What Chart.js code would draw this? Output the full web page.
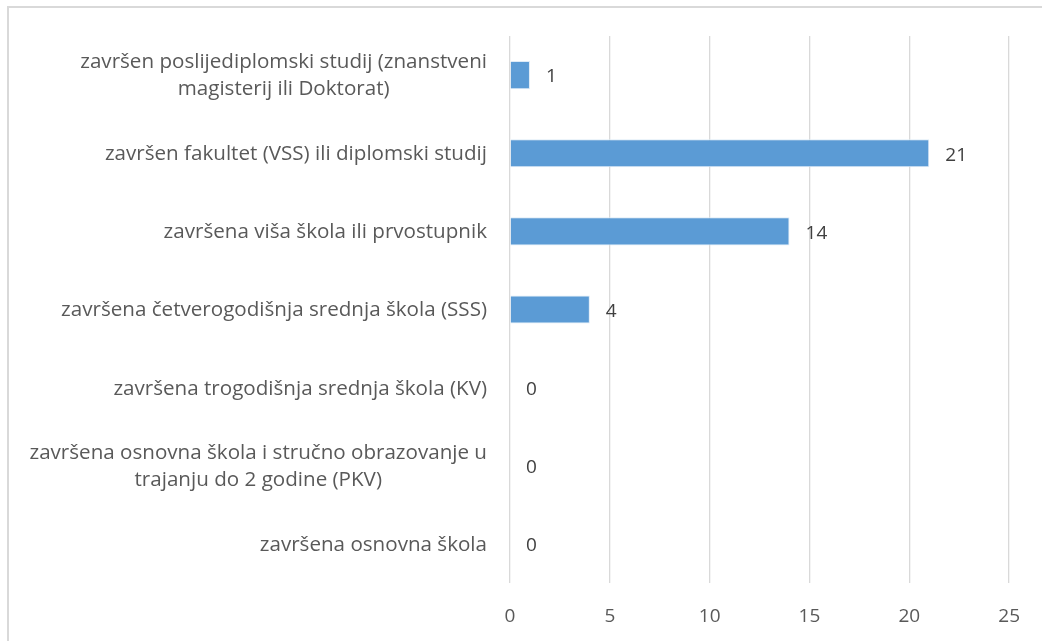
<!DOCTYPE html>
<html>
<head>
<meta charset="utf-8">
<script src="https://cdn.jsdelivr.net/npm/chart.js@4.4.1/dist/chart.umd.min.js"></script>
<style>
    html, body { margin: 0; padding: 0; background: #fff; }
    .frame {
        position: absolute; left: 7px; top: 6px; width: 1100px; height: 700px;
        border-left: 2px solid #d9d9d9; border-top: 2px solid #d9d9d9;
    }
    #chart { position: absolute; left: 0; top: 0; }
</style>
</head>
<body>
<div class="frame"></div>
<canvas id="chart" width="1042" height="641"></canvas>
<script>
const categories = [
    ['završen poslijediplomski studij (znanstveni', 'magisterij ili Doktorat)'],
    ['završen fakultet (VSS) ili diplomski studij'],
    ['završena viša škola ili prvostupnik'],
    ['završena četverogodišnja srednja škola (SSS)'],
    ['završena trogodišnja srednja škola (KV)'],
    ['završena osnovna škola i stručno obrazovanje u', 'trajanju do 2 godine (PKV)'],
    ['završena osnovna škola']
];
const counts = [1, 21, 14, 4, 0, 0, 0];
const xTicks = [0, 5, 10, 15, 20, 25];

const FONT = '"Open Sans", sans-serif';
const LABEL_SIZE = 20.6;
const NUM_SIZE = 19;

// y labels: longest line right-aligned to the axis, other lines centred under it
const yLabelsPlugin = {
    id: 'yLabels',
    afterDraw(chart) {
        const ctx = chart.ctx;
        const yScale = chart.scales.y;
        const right = chart.chartArea.left - 23;
        const lineH = 27;
        ctx.save();
        ctx.font = `${LABEL_SIZE}px ${FONT}`;
        ctx.fillStyle = '#595959';
        ctx.textAlign = 'center';
        ctx.textBaseline = 'middle';
        categories.forEach((lines, i) => {
            const maxW = Math.max(...lines.map(l => ctx.measureText(l).width));
            const cx = right - maxW / 2;
            const cy = yScale.getPixelForTick(i) + 1;
            const start = cy - (lines.length - 1) * lineH / 2;
            lines.forEach((l, j) => ctx.fillText(l, cx, start + j * lineH));
        });
        ctx.restore();
    }
};

// value labels right of each bar end
const valueLabelsPlugin = {
    id: 'valueLabels',
    afterDatasetsDraw(chart) {
        const ctx = chart.ctx;
        const meta = chart.getDatasetMeta(0);
        ctx.save();
        ctx.font = `${NUM_SIZE}px ${FONT}`;
        ctx.fillStyle = '#404040';
        ctx.textAlign = 'left';
        ctx.textBaseline = 'middle';
        meta.data.forEach((bar, i) => {
            ctx.fillText(String(counts[i]), bar.x + 16, bar.y + 2);
        });
        ctx.restore();
    }
};

new Chart(document.getElementById('chart'), {
    type: 'bar',
    data: {
        labels: categories.map(c => c.join(' ')),
        datasets: [{
            data: counts,
            backgroundColor: '#5b9bd5',
            borderColor: '#deebf7',
            borderWidth: 1,
            barPercentage: 0.36,
            categoryPercentage: 1
        }]
    },
    options: {
        indexAxis: 'y',
        responsive: false,
        animation: false,
        devicePixelRatio: 1,
        layout: { padding: { top: 36, right: 32, left: 0, bottom: 0 } },
        plugins: {
            legend: { display: false },
            tooltip: { enabled: false }
        },
        scales: {
            x: {
                min: 0,
                max: 25,
                afterBuildTicks: (scale) => { scale.ticks = xTicks.map(v => ({ value: v })); },
                afterFit: (scale) => { scale.height = 58; },
                border: { display: false },
                grid: { color: '#d9d9d9', lineWidth: 1.3, drawTicks: false },
                ticks: {
                    padding: 22,
                    color: '#595959',
                    font: { family: FONT, size: NUM_SIZE }
                }
            },
            y: {
                afterFit: (scale) => { scale.width = 510; },
                border: { display: false },
                grid: { display: false, drawTicks: false },
                ticks: { display: false }
            }
        }
    },
    plugins: [yLabelsPlugin, valueLabelsPlugin]
});
</script>
</body>
</html>
